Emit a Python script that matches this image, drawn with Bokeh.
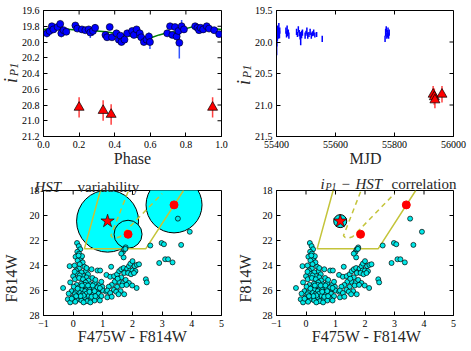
import math
from bokeh.plotting import figure
from bokeh.models import Range1d, FixedTicker, PrintfTickFormatter, GridBox
from bokeh.core.properties import value
from bokeh.embed import file_html
from bokeh.resources import INLINE

# ---------------- data ----------------
# light curve folded on phase (blue points)
phase = [0.019, 0.034, 0.047, 0.056, 0.079, 0.094, 0.100, 0.113, 0.128, 0.179, 0.190,
         0.216, 0.235, 0.254, 0.263, 0.278, 0.290, 0.348, 0.357, 0.372, 0.385, 0.410,
         0.423, 0.432, 0.438, 0.455, 0.470, 0.498, 0.508, 0.523, 0.541, 0.549, 0.564,
         0.579, 0.592, 0.598, 0.695, 0.711, 0.724, 0.739, 0.748, 0.758, 0.763, 0.776,
         0.789, 0.852, 0.865, 0.874, 0.883, 0.897, 0.917, 0.930, 0.959, 0.987]
phase_mag = [19.89, 19.86, 19.80, 19.84, 19.81, 19.77, 19.89, 19.85, 19.87, 19.79, 19.83,
             19.84, 19.85, 19.84, 19.88, 19.86, 19.82, 19.91, 19.94, 19.81, 19.94, 19.89,
             19.97, 19.92, 20.00, 19.97, 19.89, 19.86, 19.91, 19.84, 19.89, 19.94, 20.00,
             19.97, 19.93, 20.00, 19.89, 19.80, 19.91, 19.81, 19.93, 19.86, 20.01, 19.80,
             19.84, 19.80, 19.82, 19.85, 19.82, 19.84, 19.80, 19.83, 19.85, 19.90]
phase_err = [0.05, 0.03, 0.03, 0.03, 0.03, 0.04, 0.05, 0.03, 0.03, 0.03, 0.03,
             0.03, 0.03, 0.03, 0.07, 0.06, 0.05, 0.03, 0.04, 0.03, 0.03, 0.03,
             0.05, 0.03, 0.04, 0.04, 0.03, 0.03, 0.04, 0.03, 0.03, 0.04, 0.04,
             0.03, 0.05, 0.09, 0.04, 0.03, 0.04, 0.03, 0.04, 0.03, 0.20, 0.08,
             0.04, 0.03, 0.03, 0.03, 0.03, 0.04, 0.03, 0.03, 0.03, 0.03]

# model curve
curve_phase = [0.0, 0.05, 0.1, 0.15, 0.2, 0.25, 0.3, 0.35, 0.4, 0.45, 0.5, 0.55,
               0.6, 0.65, 0.7, 0.75, 0.8, 0.85, 0.9, 0.95, 1.0]
curve_mag = [19.84, 19.83, 19.83, 19.84, 19.85, 19.85, 19.86, 19.87, 19.89, 19.91, 19.93,
             19.95, 19.95, 19.91, 19.88, 19.87, 19.83, 19.80, 19.81, 19.83, 19.84]

# faint epochs (red triangles)
red_phase = [0.20, 0.335, 0.38, 0.95]
red_mjd = [55931, 55935, 55937, 55961]
red_mag = [20.83, 20.87, 20.92, 20.83]
red_err = [0.13, 0.13, 0.13, 0.13]

# light curve vs MJD (blue error bars)
mjd = [55400.5, 55401, 55402, 55403, 55404, 55405, 55406, 55407, 55408, 55409, 55410, 55411,
       55432, 55434, 55436, 55438, 55440, 55442,
       55468, 55471, 55474, 55477, 55480, 55482, 55485, 55488,
       55497, 55500, 55503, 55506, 55510, 55514, 55518, 55522, 55526, 55530, 55536,
       55555,
       55768, 55770, 55772, 55774, 55776, 55778, 55780, 55782]
mjd_mag = [20.04, 19.95, 19.85, 19.90, 19.80, 19.87, 19.83, 19.90, 19.78, 19.85, 19.88, 19.82,
           19.82, 19.88, 19.80, 19.86, 19.84, 19.90,
           19.84, 19.88, 19.80, 19.86, 19.90, 19.95, 19.88, 19.85,
           19.90, 19.86, 19.82, 19.90, 19.88, 19.84, 19.90, 19.87, 19.85, 19.89, 19.88,
           19.95,
           19.95, 19.85, 19.80, 19.90, 19.87, 19.82, 19.90, 19.85]
mjd_err = [0.17, 0.12, 0.10, 0.08, 0.06, 0.05, 0.06, 0.05, 0.08, 0.05, 0.06, 0.05,
           0.05, 0.05, 0.06, 0.05, 0.04, 0.05,
           0.05, 0.04, 0.05, 0.05, 0.06, 0.10, 0.06, 0.05,
           0.05, 0.04, 0.05, 0.05, 0.04, 0.05, 0.05, 0.04, 0.05, 0.04, 0.04,
           0.05,
           0.05, 0.06, 0.05, 0.05, 0.06, 0.05, 0.05, 0.05]

# HST colour-magnitude diagram
cmd_color = [0.13, 0.19, 0.24, 0.14, 0.20, 0.08, 0.26, 0.30, 0.15, 0.32, 0.22,
             -0.12, 0.05, 0.38, 0.20, 0.10, 0.43, 0.28, 0.13, 0.50, 0.00, 0.35, 0.22, 0.62, 0.82, 0.45,
             -0.10, 0.06, 0.20, 0.33, 0.52, 0.65, 0.42, 0.27, 0.12, 0.58, 0.73, 0.88, 0.98, -0.34, 0.75, 0.95,
             0.02, 0.20, 0.35, 0.47, 0.60, 0.28, -0.05, 0.15, 0.40, 0.55, 0.70, 0.85, 1.00, 0.78, 0.62,
             0.22, 0.08, -0.15, 1.12,
             0.05, 0.32, 0.45, 0.68, 0.85, 0.52, 0.95, 0.38, 0.20, 0.00, -0.18, 0.12, 0.60, 0.80, 0.72,
             0.47, 0.28, -0.10, 0.07, 0.58, 1.15, 0.90, 0.35,
             0.40, 0.50, 0.66, 0.82, 0.90, 0.30, 0.15, 0.55, 0.72, 0.35, 0.25, 0.62, 0.75, 0.10, -0.05,
             0.91, 0.45, 0.18, 0.05,
             1.28, 1.12, 1.25, 1.38, 1.48, 1.55, 1.62, 1.70, 1.77, 1.82, 1.88, 1.93, 2.00, 2.07, 2.15,
             2.22, 1.92, 2.00, 2.10, 1.72, 1.62, 1.55, 1.68, 1.77, 1.88, 1.99, 2.14, 1.48, 1.37, 1.60,
             1.72, 1.40, 1.30, 1.20, 1.85, 1.95, 2.05, 1.50, 1.65, 1.80, 1.15, 1.25, 1.45, 1.30, 1.53,
             1.68, 1.72, 1.77, 1.70, 1.62, 1.76,
             2.45, 2.48, 2.60, 2.90, 3.10, 3.20, 3.35, 2.98, 3.06, 3.64, 3.53, 3.93]
cmd_mag = [22.20, 22.45, 22.70, 22.90, 23.05, 23.30, 23.40, 23.25, 23.60, 23.75, 23.90,
           24.05, 24.00, 24.10, 24.25, 24.40, 24.45, 24.55, 24.65, 24.70, 24.85, 24.85, 24.80, 24.30, 24.40, 24.95,
           25.35, 25.10, 25.00, 25.10, 25.20, 25.00, 25.35, 25.45, 25.55, 25.50, 25.40, 25.55, 25.70, 25.80, 25.15, 25.30,
           25.70, 25.75, 25.65, 25.80, 25.70, 25.95, 26.05, 26.00, 26.05, 25.95, 25.85, 25.95, 26.00, 26.10, 26.15,
           26.20, 26.15, 26.25, 26.10,
           26.30, 26.30, 26.25, 26.30, 26.25, 26.45, 26.45, 26.55, 26.60, 26.55, 26.70, 26.75, 26.65, 26.60, 26.80,
           26.85, 26.80, 26.95, 26.90, 26.95, 26.55, 26.80, 26.95,
           25.55, 25.60, 25.60, 25.75, 25.80, 25.60, 25.85, 26.10, 26.05, 26.40, 26.45, 26.50, 26.45, 26.45, 26.65,
           24.40, 24.20, 23.20, 24.50,
           24.10, 24.75, 24.90, 24.85, 24.70, 24.45, 24.30, 24.20, 24.45, 24.25, 24.05, 23.85, 23.65, 24.05, 23.95,
           23.90, 24.40, 24.40, 24.45, 24.60, 24.95, 25.30, 25.40, 25.15, 25.40, 25.60, 25.80, 25.70, 25.95, 26.05,
           26.30, 25.30, 25.55, 25.70, 24.60, 24.70, 24.60, 25.05, 25.60, 25.55, 26.00, 26.20, 26.10, 26.50, 26.30,
           22.90, 22.70, 22.55, 23.35, 23.05, 22.67,
           25.10, 25.35, 22.40, 23.80, 23.50, 23.50, 23.75, 22.20, 22.30, 22.35, 20.25, 21.30]

# variable HST sources (circle size = variability amplitude, pixels)
var_color = [1.16, 1.85, 3.40]
var_mag = [20.45, 21.50, 19.15]
var_size = [62, 28, 56]

# the PS1 counterpart (star) and other candidates (red dots)
star_color = [1.16]
star_mag = [20.45]
cand_color = [1.85, 3.40]
cand_mag = [21.50, 19.15]

# selection box (solid) and inner region (dashed)
box_color = [0.92, 0.38, 2.45, 3.72]
box_mag = [18.0, 22.65, 22.65, 18.0]
inner_color = [1.85, 1.27, 1.33, 1.45, 1.58, 3.00]
inner_mag = [18.10, 21.62, 21.76, 21.80, 21.70, 18.25]

# ticks
t1x = [0.0, 0.2, 0.4, 0.6, 0.8, 1.0]
t1y = [19.6, 19.8, 20.0, 20.2, 20.4, 20.6, 20.8, 21.0, 21.2]
t2x = [55400, 55600, 55800, 56000]
t2y = [19.5, 20.0, 20.5, 21.0, 21.5]
t3x = [-1, 0, 1, 2, 3, 4, 5]
t3y = [18, 20, 22, 24, 26, 28]

# ---------------- styling helpers ----------------
SERIF = "Liberation Serif"
TICK_FS = "10px"


def make_fig(w, h, xr, yr, mb, xt, yt, xfmt, yfmt):
    p = figure(width=w, height=h, x_range=Range1d(*xr), y_range=Range1d(*yr),
               output_backend="svg", toolbar_location=None,
               min_border_left=mb[0], min_border_right=mb[1],
               min_border_top=mb[2], min_border_bottom=mb[3])
    p.xgrid.visible = False
    p.ygrid.visible = False
    p.outline_line_color = "black"
    p.outline_line_width = 1
    p.background_fill_color = "white"
    p.border_fill_color = "white"
    p.xaxis.ticker = FixedTicker(ticks=xt)
    p.yaxis.ticker = FixedTicker(ticks=yt)
    p.xaxis.formatter = PrintfTickFormatter(format=xfmt)
    p.yaxis.formatter = PrintfTickFormatter(format=yfmt)
    for ax in (p.xaxis[0], p.yaxis[0]):
        ax.major_tick_in = 4
        ax.major_tick_out = 0
        ax.minor_tick_in = 0
        ax.minor_tick_out = 0
        ax.major_label_text_font = SERIF
        ax.major_label_text_font_size = TICK_FS
        ax.major_label_text_color = "black"
        ax.major_label_standoff = 4
        ax.axis_line_color = "black"
    # inward ticks on the top and right edges of the frame
    p.ray(x=xt, y=[yr[1]] * len(xt), length=4, length_units="screen",
          angle=-math.pi / 2, line_color="black", line_width=1)
    p.ray(x=[xr[1]] * len(yt), y=yt, length=4, length_units="screen",
          angle=math.pi, line_color="black", line_width=1)
    return p


# ---------------- panel 1: phase ----------------
p1 = make_fig(236, 175, (0.0, 1.0), (21.2, 19.6), (43, 15, 10, 39), t1x, t1y, "%.1f", "%.1f")
p1.segment(x0=phase, y0=[m - e for m, e in zip(phase_mag, phase_err)],
           x1=phase, y1=[m + e for m, e in zip(phase_mag, phase_err)],
           line_color="#3355ff", line_width=1.5)
p1.line(curve_phase, curve_mag, line_color="#008000", line_width=1.5)
p1.scatter(phase, phase_mag, size=7, fill_color="blue", line_color="black", line_width=0.6)
p1.segment(x0=red_phase, y0=[m - e for m, e in zip(red_mag, red_err)],
           x1=red_phase, y1=[m + e for m, e in zip(red_mag, red_err)],
           line_color="#ff4040", line_width=1.5)
p1.scatter(red_phase, red_mag, marker="triangle", size=10, fill_color="red",
           line_color="black", line_width=0.7)

# ---------------- panel 2: MJD ----------------
p2 = make_fig(235, 175, (55400, 56000), (21.5, 19.5), (40, 18, 10, 39), t2x, t2y, "%d", "%.1f")
p2.segment(x0=mjd, y0=[m - e for m, e in zip(mjd_mag, mjd_err)],
           x1=mjd, y1=[m + e for m, e in zip(mjd_mag, mjd_err)],
           line_color="blue", line_width=1.5)
p2.segment(x0=red_mjd, y0=[m - e for m, e in zip(red_mag, red_err)],
           x1=red_mjd, y1=[m + e for m, e in zip(red_mag, red_err)],
           line_color="#ff4040", line_width=1.5)
p2.scatter(red_mjd, red_mag, marker="triangle", size=10, fill_color="red",
           line_color="black", line_width=0.7)

# ---------------- panel 3: HST variability ----------------
p3 = make_fig(236, 176, (-1, 5), (28, 18), (43, 15, 15, 36), t3x, t3y, "%d", "%d")
p3.xaxis[0].major_label_overrides = {-1: "\u22121"}
p3.scatter(var_color, var_mag, size=var_size, fill_color="cyan", line_color="black",
           line_width=1)
p3.line(box_color, box_mag, line_color="#c4c43a", line_width=1.5)
p3.line(inner_color, inner_mag, line_color="#c4c43a", line_width=1.5, line_dash="5 4")
p3.scatter(cmd_color, cmd_mag, size=5, fill_color="#00e8e8", line_color="black",
           line_width=0.7)
p3.scatter(cand_color, cand_mag, size=8, fill_color="red", line_color="red")
p3.scatter(star_color, star_mag, marker="star", size=14, fill_color="red",
           line_color="black", line_width=0.6)

# ---------------- panel 4: correlation ----------------
p4 = make_fig(235, 176, (-1, 5), (28, 18), (40, 18, 15, 36), t3x, t3y, "%d", "%d")
p4.xaxis[0].major_label_overrides = {-1: "\u22121"}
p4.line(box_color, box_mag, line_color="#c4c43a", line_width=1.5)
p4.line(inner_color, inner_mag, line_color="#c4c43a", line_width=1.5, line_dash="5 4")
p4.scatter(cmd_color, cmd_mag, size=5, fill_color="#00e8e8", line_color="black",
           line_width=0.7)
p4.scatter(star_color, star_mag, size=13, fill_color="#00e8e8", line_color="black",
           line_width=1)
p4.scatter(cand_color, cand_mag, size=8, fill_color="red", line_color="red")
p4.scatter(star_color, star_mag, marker="star", size=14, fill_color="red",
           line_color="black", line_width=0.6)

# ---------------- text overlay (axis labels and titles, page pixels) ----------------
ov = figure(width=471, height=351, x_range=Range1d(0, 471), y_range=Range1d(351, 0),
            x_axis_type=None, y_axis_type=None, output_backend="svg",
            toolbar_location=None, min_border=0,
            background_fill_color=None, border_fill_color=None, outline_line_color=None)
ov.frame_align = False

TXT_COLOR = "#262626"


def txt(x, y, s, size, style="normal", angle=0.0, align="center", baseline="middle"):
    ov.text(x=[x], y=[y], text=[s], text_font=value(SERIF), text_font_size=value(size),
            text_font_style=value(style), text_color=TXT_COLOR, angle=angle,
            text_align=value(align), text_baseline=value(baseline))


V = math.pi / 2
# panel 1
txt(10, 80, "i", "18px", "italic", V)
txt(13, 69, "P1", "12px", "italic", V)
txt(132, 158, "Phase", "16px")
# panel 2
txt(243, 82, "i", "18px", "italic", V)
txt(246, 71, "P1", "12px", "italic", V)
txt(365, 158, "MJD", "16px")
# panel 3
txt(11, 278, "F814W", "16px", "normal", V)
txt(132, 336, "F475W - F814W", "16px")
txt(34, 186, "HST", "15px", "italic", 0.0, "left", "alphabetic")
txt(77, 186, "variability", "15px", "normal", 0.0, "left", "alphabetic")
# panel 4
txt(245, 278, "F814W", "16px", "normal", V)
txt(366, 336, "F475W - F814W", "16px")
txt(320, 183, "i", "15px", "italic", 0.0, "left", "alphabetic")
txt(325, 186, "P1", "10px", "italic", 0.0, "left", "alphabetic")
txt(341, 183, "\u2212", "15px", "normal", 0.0, "left", "alphabetic")
txt(355, 183, "HST", "15px", "italic", 0.0, "left", "alphabetic")
txt(391, 183, "correlation", "15px", "normal", 0.0, "left", "alphabetic")

layout = GridBox(children=[(p1, 0, 0), (p2, 0, 1), (p3, 1, 0), (p4, 1, 1), (ov, 0, 0, 2, 2)],
                 spacing=0)
open("out.html", "w").write(file_html(layout, INLINE))
